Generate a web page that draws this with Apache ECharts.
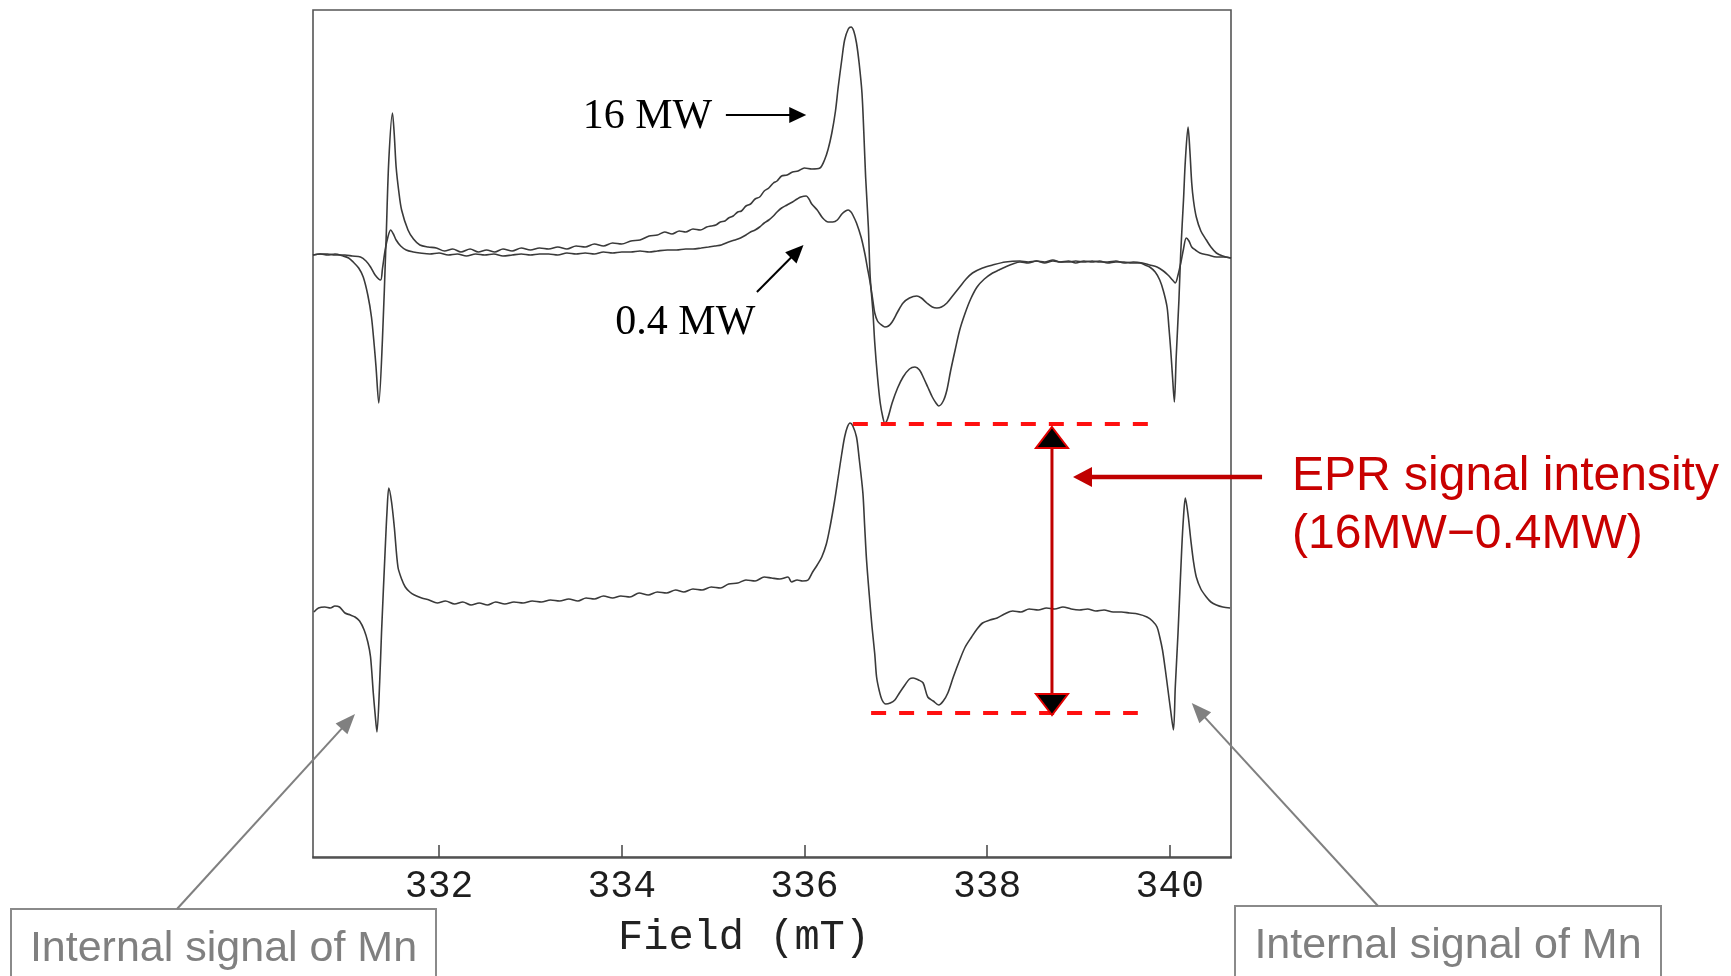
<!DOCTYPE html>
<html><head><meta charset="utf-8">
<script src="https://cdn.jsdelivr.net/npm/echarts@6/dist/echarts.min.js"></script>
<style>html,body{margin:0;padding:0;background:#fff;}#chart{width:1731px;height:976px;}</style>
</head><body><div id="chart"></div>
<script>
// Field axis (mT)
const fieldTicks = [332, 334, 336, 338, 340];
const fieldMin = 330.62, fieldMax = 340.67;

// EPR traces: [field (mT), signal (a.u.)]
const trace16MW = [[330.62,60.2],[330.70,60.3],[330.78,60.2],[330.86,60.3],[330.95,60.1],[331.01,59.9],[331.06,59.5],[331.12,58.9],[331.17,58.0],[331.22,56.2],[331.26,54.0],[331.29,51.2],[331.31,49.0],[331.34,45.4],[331.38,51.7],[331.42,61.7],[331.45,69.7],[331.49,74.4],[331.51,72.2],[331.53,69.0],[331.56,66.5],[331.59,64.7],[331.66,62.7],[331.72,61.8],[331.79,61.2],[331.88,61.0],[331.97,60.9],[332.06,60.6],[332.15,60.8],[332.24,60.5],[332.34,60.8],[332.43,60.5],[332.52,60.7],[332.61,60.5],[332.70,60.8],[332.80,60.6],[332.90,60.9],[333.00,60.7],[333.10,60.9],[333.20,60.8],[333.30,61.0],[333.40,60.8],[333.50,61.1],[333.60,61.0],[333.70,61.3],[333.80,61.1],[333.90,61.4],[334.00,61.3],[334.10,61.6],[334.20,61.7],[334.30,62.1],[334.39,62.2],[334.47,62.5],[334.55,62.3],[334.63,62.6],[334.70,62.5],[334.78,62.8],[334.86,62.7],[334.93,63.0],[334.98,63.1],[335.03,63.2],[335.08,63.5],[335.13,63.6],[335.17,63.9],[335.22,64.1],[335.27,64.5],[335.31,64.6],[335.36,65.1],[335.41,65.3],[335.46,65.8],[335.51,66.0],[335.56,66.6],[335.61,66.9],[335.66,67.4],[335.70,67.6],[335.75,68.1],[335.81,68.2],[335.87,68.5],[335.93,68.6],[336.00,68.9],[336.08,68.8],[336.17,68.9],[336.22,69.7],[336.26,70.8],[336.30,72.4],[336.34,74.6],[336.37,77.0],[336.41,79.8],[336.44,81.7],[336.48,82.8],[336.51,83.0],[336.54,82.6],[336.57,81.4],[336.60,79.3],[336.63,76.4],[336.65,72.5],[336.67,68.0],[336.70,63.0],[336.72,58.0],[336.75,54.5],[336.77,51.4],[336.80,48.0],[336.83,45.4],[336.86,43.9],[336.88,43.4],[336.91,43.8],[336.96,45.4],[337.02,46.9],[337.08,48.0],[337.15,48.8],[337.21,49.0],[337.26,48.7],[337.30,48.0],[337.35,47.0],[337.40,46.0],[337.44,45.4],[337.47,45.1],[337.52,45.6],[337.56,46.7],[337.60,48.6],[337.65,50.7],[337.70,52.7],[337.76,54.4],[337.82,55.8],[337.89,57.0],[337.97,57.8],[338.06,58.4],[338.13,58.7],[338.20,59.0],[338.28,59.3],[338.36,59.5],[338.45,59.4],[338.54,59.6],[338.63,59.5],[338.72,59.7],[338.80,59.5],[338.89,59.6],[338.97,59.4],[339.06,59.6],[339.15,59.5],[339.23,59.6],[339.32,59.4],[339.41,59.5],[339.50,59.5],[339.58,59.4],[339.67,59.4],[339.73,59.2],[339.78,59.0],[339.84,58.5],[339.89,57.7],[339.93,56.6],[339.97,55.0],[339.99,53.0],[340.01,50.7],[340.03,48.0],[340.05,45.5],[340.07,50.0],[340.10,55.7],[340.12,60.5],[340.15,65.7],[340.17,69.6],[340.20,73.0],[340.22,70.6],[340.24,67.4],[340.26,65.6],[340.29,64.0],[340.34,62.6],[340.40,61.7],[340.45,61.0],[340.51,60.4],[340.58,60.1],[340.67,59.9]];

const trace04MW = [[330.62,60.2],[330.70,60.3],[330.78,60.3],[330.86,60.2],[330.97,60.2],[331.05,60.1],[331.14,60.0],[331.20,59.6],[331.25,59.0],[331.30,58.2],[331.36,57.7],[331.38,58.8],[331.41,60.7],[331.44,62.0],[331.47,62.7],[331.50,62.3],[331.53,61.7],[331.58,61.1],[331.64,60.7],[331.72,60.5],[331.79,60.4],[331.90,60.3],[332.00,60.4],[332.10,60.2],[332.20,60.3],[332.30,60.1],[332.40,60.3],[332.50,60.2],[332.60,60.3],[332.70,60.1],[332.80,60.2],[332.90,60.3],[333.00,60.2],[333.10,60.3],[333.20,60.3],[333.30,60.2],[333.40,60.4],[333.50,60.3],[333.60,60.4],[333.70,60.3],[333.80,60.5],[333.90,60.4],[334.00,60.5],[334.10,60.5],[334.20,60.6],[334.30,60.5],[334.39,60.6],[334.50,60.7],[334.60,60.7],[334.70,60.8],[334.78,60.8],[334.87,60.9],[334.95,61.0],[335.02,61.1],[335.09,61.2],[335.17,61.5],[335.24,61.7],[335.30,61.9],[335.36,62.2],[335.41,62.5],[335.46,62.7],[335.51,63.0],[335.56,63.4],[335.61,63.7],[335.66,64.1],[335.70,64.5],[335.75,64.9],[335.81,65.2],[335.87,65.5],[335.92,65.8],[335.96,66.0],[336.02,66.1],[336.05,65.8],[336.08,65.3],[336.14,64.7],[336.20,63.9],[336.26,63.5],[336.31,63.5],[336.36,63.7],[336.41,64.3],[336.45,64.6],[336.48,64.7],[336.51,64.5],[336.53,64.2],[336.57,63.4],[336.62,62.0],[336.66,60.4],[336.69,58.9],[336.72,57.4],[336.75,55.6],[336.77,54.4],[336.80,53.6],[336.83,53.3],[336.88,53.0],[336.92,53.1],[336.96,53.5],[337.02,54.5],[337.08,55.4],[337.15,55.9],[337.23,56.1],[337.28,55.9],[337.34,55.4],[337.40,55.0],[337.45,54.9],[337.50,55.0],[337.56,55.4],[337.63,56.2],[337.70,57.0],[337.77,57.8],[337.84,58.4],[337.95,58.9],[338.06,59.2],[338.20,59.5],[338.36,59.6],[338.45,59.5],[338.54,59.6],[338.63,59.4],[338.72,59.6],[338.80,59.5],[338.89,59.5],[338.97,59.6],[339.06,59.5],[339.15,59.6],[339.23,59.5],[339.32,59.5],[339.41,59.6],[339.50,59.4],[339.60,59.5],[339.70,59.4],[339.78,59.2],[339.86,59.0],[339.93,58.6],[339.98,58.2],[340.03,57.7],[340.06,57.4],[340.09,58.2],[340.12,59.4],[340.15,60.8],[340.18,61.9],[340.21,61.6],[340.24,61.0],[340.28,60.7],[340.33,60.4],[340.42,60.2],[340.51,60.0],[340.59,60.0],[340.67,59.9]];

const traceDiff = [[330.63,24.5],[330.68,24.9],[330.75,25.0],[330.81,24.9],[330.86,25.1],[330.91,25.0],[330.97,24.4],[331.03,24.2],[331.08,24.0],[331.13,23.6],[331.18,22.7],[331.22,21.5],[331.25,20.0],[331.28,16.4],[331.30,14.3],[331.32,12.5],[331.35,17.5],[331.37,22.4],[331.41,30.7],[331.43,34.5],[331.45,36.9],[331.48,35.5],[331.51,33.0],[331.55,29.0],[331.59,27.8],[331.63,27.0],[331.68,26.5],[331.73,26.2],[331.81,25.9],[331.89,25.7],[331.98,25.4],[332.07,25.6],[332.17,25.3],[332.26,25.5],[332.35,25.2],[332.44,25.4],[332.53,25.2],[332.62,25.5],[332.72,25.3],[332.82,25.5],[332.92,25.4],[333.02,25.6],[333.12,25.5],[333.22,25.7],[333.32,25.6],[333.42,25.8],[333.52,25.6],[333.61,25.9],[333.70,25.8],[333.80,26.1],[333.90,25.9],[333.99,26.1],[334.09,26.0],[334.19,26.4],[334.29,26.2],[334.39,26.5],[334.49,26.4],[334.59,26.7],[334.68,26.5],[334.78,26.8],[334.88,26.7],[334.98,27.0],[335.08,26.9],[335.17,27.3],[335.27,27.4],[335.36,27.7],[335.46,27.6],[335.56,28.0],[335.64,27.9],[335.73,27.8],[335.82,28.0],[335.86,27.5],[335.92,27.7],[335.98,27.6],[336.04,27.7],[336.09,28.5],[336.14,29.2],[336.19,30.0],[336.24,31.3],[336.28,33.0],[336.33,35.6],[336.37,38.0],[336.41,40.4],[336.44,42.0],[336.47,43.0],[336.50,43.4],[336.53,43.1],[336.57,42.0],[336.60,39.8],[336.64,36.4],[336.66,33.0],[336.68,29.7],[336.71,26.2],[336.74,23.0],[336.77,20.3],[336.79,18.0],[336.82,16.6],[336.85,15.7],[336.89,15.3],[336.94,15.4],[336.99,15.7],[337.04,16.4],[337.10,17.2],[337.15,17.8],[337.19,17.9],[337.25,17.7],[337.30,17.4],[337.35,16.0],[337.41,15.6],[337.47,15.2],[337.52,15.6],[337.57,16.4],[337.63,18.0],[337.70,19.7],[337.76,21.0],[337.83,22.0],[337.89,22.8],[337.95,23.4],[338.03,23.7],[338.11,23.9],[338.19,24.3],[338.28,24.6],[338.37,24.5],[338.46,24.8],[338.56,24.7],[338.65,24.9],[338.74,24.8],[338.83,25.0],[338.92,24.8],[339.01,24.7],[339.10,24.8],[339.19,24.6],[339.28,24.7],[339.38,24.5],[339.47,24.5],[339.56,24.4],[339.65,24.3],[339.75,24.0],[339.81,23.6],[339.86,23.0],[339.89,22.0],[339.92,20.7],[339.95,18.8],[339.98,16.7],[340.01,14.6],[340.04,12.7],[340.06,17.0],[340.09,22.4],[340.13,30.7],[340.15,34.0],[340.17,35.9],[340.20,34.2],[340.23,31.7],[340.26,29.5],[340.29,28.0],[340.34,26.8],[340.40,26.0],[340.45,25.5],[340.51,25.2],[340.58,25.0],[340.66,24.9]];

// Annotation anchors (data units)
const label16 = {text: '16 MW', at: [334.99, 74.2], from: [335.14, 74.2], to: [336.02, 74.2]};
const label04 = {text: '0.4 MW', at: [333.93, 53.4], from: [335.48, 56.5], to: [335.99, 61.2]};
const diffTop = 43.3, diffBottom = 14.4;           // dashed guide levels
const dashTopRange = [336.53, 339.76], dashBottomRange = [336.73, 339.65];
const intensityArrow = {field: 338.71, top: 43.0, bottom: 14.2};
const pointerArrow = {tip: [338.94, 38.0], tail: [341.01, 38.0]};
const mnTips = [[331.08, 14.3], [340.24, 15.4]];
const intensityText = ['EPR signal intensity', '(16MW\u22120.4MW)'];
const mnText = 'Internal signal of Mn';

const chart = echarts.init(document.getElementById('chart'), null, {renderer: 'canvas'});
const lineStyle = {color: '#3a3a3a', width: 1.6};
chart.setOption({
  animation: false,
  backgroundColor: '#fff',
  grid: {left: 313, right: 500, top: 10, bottom: 118, show: true, borderColor: '#555', borderWidth: 1.6, backgroundColor: 'transparent'},
  xAxis: {
    type: 'value', min: fieldMin, max: fieldMax,
    name: 'Field (mT)', nameLocation: 'middle', nameGap: 59,
    nameTextStyle: {fontFamily: 'Liberation Mono', fontSize: 42, color: '#222', padding: [0, 56, 0, 0]},
    axisLine: {show: true, lineStyle: {color: '#444', width: 1.6}},
    axisTick: {show: true, inside: true, length: 12, customValues: fieldTicks, lineStyle: {color: '#444', width: 1.5}},
    axisLabel: {show: true, customValues: fieldTicks, margin: 10, fontFamily: 'Liberation Mono', fontSize: 38, color: '#1e1e1e'},
    splitLine: {show: false}
  },
  yAxis: {type: 'value', min: -0.1, max: 84.7, show: false, splitLine: {show: false}},
  series: [
    {type: 'line', name: '16 MW', data: trace16MW, showSymbol: false, smooth: 0.3, lineStyle},
    {type: 'line', name: '0.4 MW', data: trace04MW, showSymbol: false, smooth: 0.3, lineStyle},
    {type: 'line', name: '16MW-0.4MW', data: traceDiff, showSymbol: false, smooth: 0.3, lineStyle}
  ]
});

function px(p) { return chart.convertToPixel({xAxisIndex: 0, yAxisIndex: 0}, p); }
function head(tip, tail, len, half, fill, stroke, lw) {
  const dx = tip[0] - tail[0], dy = tip[1] - tail[1];
  const d = Math.hypot(dx, dy), ux = dx / d, uy = dy / d;
  const bx = tip[0] - ux * len, by = tip[1] - uy * len;
  return {type: 'polygon', z: 100,
    shape: {points: [tip, [bx - uy * half, by + ux * half], [bx + uy * half, by - ux * half]]},
    style: {fill: fill, stroke: stroke || null, lineWidth: lw || 0}};
}
function shaftEnd(tip, tail, len) {
  const dx = tip[0] - tail[0], dy = tip[1] - tail[1];
  const d = Math.hypot(dx, dy);
  return [tip[0] - dx / d * len, tip[1] - dy / d * len];
}
function line(a, b, stroke, lw, dash) {
  return {type: 'line', z: 100, shape: {x1: a[0], y1: a[1], x2: b[0], y2: b[1]},
    style: {stroke: stroke, lineWidth: lw, lineDash: dash || null}};
}
function text(t, x, y, font, fill, align) {
  return {type: 'text', z: 100, x: x, y: y,
    style: {text: t, font: font, fill: fill, align: align, textAlign: align, verticalAlign: 'middle', textVerticalAlign: 'middle'}};
}

const g = [];
// 16 MW label + arrow
{
  const at = px(label16.at), a = px(label16.from), b = px(label16.to);
  g.push(text(label16.text, at[0], at[1] + 2, '42px "Liberation Serif"', '#000', 'right'));
  g.push(line(a, shaftEnd(b, a, 12), '#000', 2));
  g.push(head(b, a, 17, 8, '#000'));
}
// 0.4 MW label + arrow
{
  const at = px(label04.at), a = px(label04.from), b = px(label04.to);
  g.push(text(label04.text, at[0], at[1], '42px "Liberation Serif"', '#000', 'left'));
  g.push(line(a, shaftEnd(b, a, 12), '#000', 2));
  g.push(head(b, a, 18, 8, '#000'));
}
// red dashed guides
g.push(line(px([dashTopRange[0], diffTop]), px([dashTopRange[1], diffTop]), '#ff1010', 4, [15, 13]));
g.push(line(px([dashBottomRange[0], diffBottom]), px([dashBottomRange[1], diffBottom]), '#ff1010', 4, [15, 13]));
// vertical double arrow
{
  const t = px([intensityArrow.field, intensityArrow.top]), b = px([intensityArrow.field, intensityArrow.bottom]);
  g.push(line([t[0], t[1] + 18], [b[0], b[1] - 18], '#c00000', 3));
  g.push(head(t, b, 21, 16, '#000', '#e00000', 2));
  g.push(head(b, t, 21, 16, '#000', '#e00000', 2));
}
// horizontal pointer arrow
{
  const tip = px(pointerArrow.tip), tail = px(pointerArrow.tail);
  g.push(line(tail, [tip[0] + 16, tip[1]], '#c00000', 4.5));
  g.push(head(tip, tail, 19, 10, '#c00000'));
  g.push(text(intensityText[0], tail[0] + 30, tip[1], '48px "Liberation Sans"', '#c80000', 'left'));
  g.push(text(intensityText[1], tail[0] + 30, tip[1] + 58, '48px "Liberation Sans"', '#c80000', 'left'));
}
// Mn boxes and gray arrows
{
  const boxes = [{x: 11, y: 909, w: 425, anchor: [177, 909]}, {x: 1235, y: 906, w: 426, anchor: [1378, 906]}];
  boxes.forEach((bx, i) => {
    g.push({type: 'rect', z: 100, shape: {x: bx.x, y: bx.y, width: bx.w, height: 90}, style: {fill: '#fff', stroke: '#8a8a8a', lineWidth: 2}});
    g.push(text(mnText, bx.x + bx.w / 2, bx.y + 40, '43px "Liberation Sans"', '#808080', 'center'));
    const tip = px(mnTips[i]);
    g.push(line(bx.anchor, shaftEnd(tip, bx.anchor, 14), '#808080', 2));
    g.push(head(tip, bx.anchor, 20, 8, '#808080'));
  });
}
chart.setOption({graphic: {elements: g}});
</script></body></html>
